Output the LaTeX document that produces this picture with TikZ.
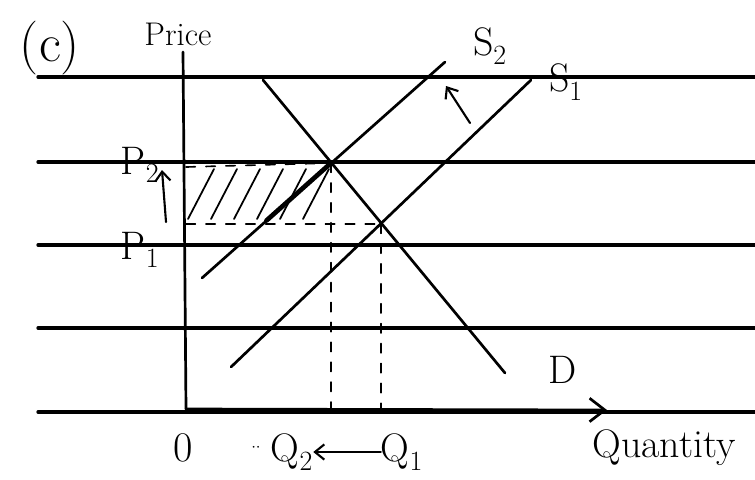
\documentclass[tikz,border=0pt]{standalone}
\usepackage{fontspec}
\usetikzlibrary{arrows.meta,calc}

\begin{document}
\begin{tikzpicture}[x=0.3mm,y=-0.3mm,line cap=round,
  rule/.style={line width=2.8pt},
  curve/.style={line width=2.3pt},
  guide/.style={line width=1.4pt,dash pattern=on 8pt off 9pt},
  hatch/.style={line width=1.5pt},
  lab/.style={font=\fontsize{34}{40}\selectfont,inner sep=0pt},
  movearrow/.style={line width=1.8pt,-{Straight Barb[length=8pt,width=13pt]}}]
\useasboundingbox (0,0) rectangle (755,479);
% ruled paper
\foreach \y in {77,162,245,328,412}
  \draw[rule] (38,\y) -- (755,\y);
% axes
\coordinate (O) at (186,409);
\coordinate (ytop) at (183,52);
\coordinate (xend) at (607,410);
\draw[curve] (O) -- (ytop);
\draw[curve,-{Straight Barb[length=13pt,width=20pt]}] (O) -- (xend);
% curves and equilibria
\coordinate (E2) at (331,163);
\coordinate (E1) at (381,224);
\coordinate (dtop) at (263,80);
\coordinate (dend) at (505,373);
\coordinate (s1low) at (231,367);
\coordinate (s1top) at (531,80);
\coordinate (s2low) at (202,278);
\coordinate (s2top) at (445,62);
\draw[curve] (dtop) -- (dend);
\draw[curve] (s1low) -- (s1top);
\draw[curve] (s2low) -- (s2top);
\draw[line width=4pt] ($(s2low)!0.5!(E2)$) -- (E2);
% shaded area
\foreach \x in {188,211,234,257,280,303}
  \draw[hatch] (\x,219) -- ++(26,-50);
\draw[guide] (O |- E2) ++(0,4) -- (E2);
\draw[guide] (O |- E1) -- (E1);
\draw[guide] (E2) -- (E2 |- O);
\draw[guide] (E1) -- (E1 |- O);
% labels
\node[lab,font=\fontsize{46}{50}\selectfont] (part) at (50,48) {(c)};
\node[lab,font=\fontsize{28}{32}\selectfont] (price) at (178,34) {Price};
\node[lab] (S2lab) at (490,46) {S\textsubscript{2}};
\node[lab] (S1lab) at (566,82) {S\textsubscript{1}};
\node[lab] (P2) at (140,165) {P\textsubscript{2}};
\node[lab] (P1) at (140,250) {P\textsubscript{1}};
\node[lab,font=\fontsize{36}{40}\selectfont] (zero) at (183,448) {0};
\node[lab,font=\fontsize{14}{16}\selectfont] (dots) at (256,448) {$\cdot\cdot$};
\node[lab] (Q2) at (292,452) {Q\textsubscript{2}};
\node[lab] (Q1) at (402,452) {Q\textsubscript{1}};
\node[lab] (Dlab) at (563,370) {D};
\node[lab] (qty) at (664,448) {Quantity};
% shifts
\coordinate (pa) at (166,222);
\coordinate (pb) at (162,170);
\coordinate (sa) at (470,123);
\coordinate (sb) at (446,86);
\draw[movearrow] (pa) -- (pb);
\draw[movearrow] (sa) -- (sb);
\draw[movearrow] (Q1) -- (Q2);
\end{tikzpicture}
\end{document}
